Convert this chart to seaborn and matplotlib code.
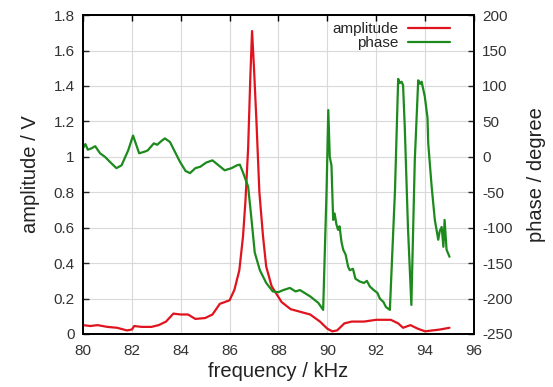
import numpy as np
import pandas as pd
import matplotlib
matplotlib.use("Agg")
import matplotlib.pyplot as plt
from matplotlib.ticker import FuncFormatter, MultipleLocator
import seaborn as sns

# amplitude curve (kHz, V)
amp_freq = [80.0, 80.3, 80.6, 81.0, 81.4, 81.8, 82.0, 82.1, 82.4, 82.8, 83.1, 83.4,
            83.7, 84.0, 84.3, 84.6, 85.0, 85.3, 85.6, 86.0, 86.2, 86.4, 86.55, 86.65,
            86.76, 86.85, 86.92, 87.0, 87.1, 87.22, 87.37, 87.5, 87.72, 88.13, 88.5,
            88.9, 89.3, 89.7, 90.0, 90.2, 90.4, 90.7, 91.0, 91.5, 92.0, 92.6, 92.9,
            93.1, 93.4, 93.7, 94.0, 94.3, 94.6, 95.0]
amp_val = [0.05, 0.045, 0.05, 0.04, 0.035, 0.02, 0.025, 0.045, 0.04, 0.04, 0.05, 0.07,
           0.115, 0.11, 0.11, 0.085, 0.09, 0.11, 0.17, 0.19, 0.25, 0.36, 0.55, 0.75,
           1.05, 1.45, 1.71, 1.5, 1.2, 0.8, 0.55, 0.38, 0.27, 0.18, 0.14,
           0.125, 0.11, 0.07, 0.03, 0.015, 0.02, 0.06, 0.07, 0.07, 0.08, 0.08, 0.06,
           0.035, 0.05, 0.03, 0.015, 0.02, 0.025, 0.035]

# phase curve (kHz, degree)
phase_freq = [80.0, 80.1, 80.2, 80.35, 80.5, 80.7, 80.9, 81.1, 81.37, 81.58, 81.85, 82.05,
              82.2, 82.3, 82.5, 82.65, 82.9, 83.04, 83.2, 83.35, 83.56, 83.75, 83.97, 84.2,
              84.38, 84.6, 84.8, 85.05, 85.3, 85.55, 85.8, 86.08, 86.3, 86.42, 86.56, 86.76,
              86.9, 87.03, 87.24, 87.5, 87.77, 88.0, 88.2, 88.47, 88.7, 88.88, 89.3, 89.63,
              89.83, 89.97, 90.04, 90.1, 90.17, 90.24, 90.3, 90.37, 90.44, 90.5, 90.58, 90.65,
              90.75, 90.85, 90.92, 91.05, 91.15, 91.33, 91.5, 91.62, 91.74, 91.9, 92.05, 92.15,
              92.3, 92.4, 92.56, 92.77, 92.9, 92.96, 93.04, 93.1, 93.17, 93.3, 93.44, 93.58,
              93.72, 93.8, 93.86, 93.99, 94.1, 94.13, 94.27, 94.4, 94.54, 94.6, 94.68, 94.75,
              94.8, 94.88, 95.0]
phase_val = [12, 18, 10, 12, 15, 5, 0, -7, -16, -12, 9, 30,
             15, 5, 7, 9, 19, 17, 22, 26, 21, 8, -7, -20,
             -23, -16, -14, -8, -5, -12, -19, -16, -12, -11, -23, -42,
             -89, -135, -160, -178, -190, -191, -188, -185, -190, -188, -197, -206,
             -216, -47, 66, 0, -12, -89, -80, -95, -103, -98, -120, -131,
             -138, -155, -160, -158, -172, -176, -178, -175, -183, -188, -192, -200,
             -205, -212, -216, -47, 110, 104, 106, 101, 42, -99, -209, -5,
             108, 103, 106, 85, 55, 19, -42, -89, -117, -105, -99, -127,
             -89, -131, -141]

x_ticks = [80, 82, 84, 86, 88, 90, 92, 94, 96]

RED = "#e0141e"
GREEN = "#1c8a1c"

sns.set_style("white")
plt.rcParams["font.family"] = ["Liberation Sans", "DejaVu Sans"]

amp_df = pd.DataFrame({"freq": amp_freq, "amp": amp_val})
phase_df = pd.DataFrame({"freq": phase_freq, "phase": phase_val})

fig = plt.figure(figsize=(5.53, 3.87), dpi=100)
ax = fig.add_axes([0.150, 0.137, 0.707, 0.824])
ax2 = ax.twinx()

sns.lineplot(data=amp_df, x="freq", y="amp", ax=ax, color=RED, lw=1.6,
             label="amplitude", legend=False, sort=False)
sns.lineplot(data=phase_df, x="freq", y="phase", ax=ax2, color=GREEN, lw=1.6,
             label="phase", legend=False, sort=False)

ax.set_xlim(80, 96)
ax.set_ylim(0, 1.8)
ax2.set_ylim(-250, 200)
ax.set_xticks(x_ticks)
ax.yaxis.set_major_locator(MultipleLocator(0.2))
ax2.yaxis.set_major_locator(MultipleLocator(50))
fmt = FuncFormatter(lambda v, p: "%g" % round(v, 3))
ax.yaxis.set_major_formatter(fmt)
ax2.yaxis.set_major_formatter(fmt)

ax.grid(True, color="#d9d9d9", lw=0.8)
ax.set_axisbelow(True)

for a in (ax, ax2):
    for s in a.spines.values():
        s.set_color("black")
        s.set_linewidth(1.3)
ax.tick_params(axis="x", direction="in", top=True, length=4, width=1,
               labelsize=11, colors="black", labelcolor="#333333", pad=7)
ax.tick_params(axis="y", direction="in", length=4, width=1, labelsize=11,
               labelcolor="#333333", pad=6)
ax2.tick_params(axis="y", direction="in", length=4, width=1, labelsize=11,
                labelcolor="#333333", pad=6)

ax.set_xlabel("frequency / kHz", fontsize=14.5, color="#222222", labelpad=3)
ax.set_ylabel("amplitude / V", fontsize=14.5, color="#222222", labelpad=10)
ax2.set_ylabel("phase / degree", fontsize=14.5, color="#222222", labelpad=10)

h1, l1 = ax.get_legend_handles_labels()
h2, l2 = ax2.get_legend_handles_labels()
ax2.legend(h1 + h2, l1 + l2, loc="upper right", bbox_to_anchor=(0.975, 1.02),
           frameon=False, markerfirst=False, fontsize=11, handlelength=2.8,
           labelspacing=0.0, handletextpad=0.6)

fig.savefig("out.png", dpi=100)
